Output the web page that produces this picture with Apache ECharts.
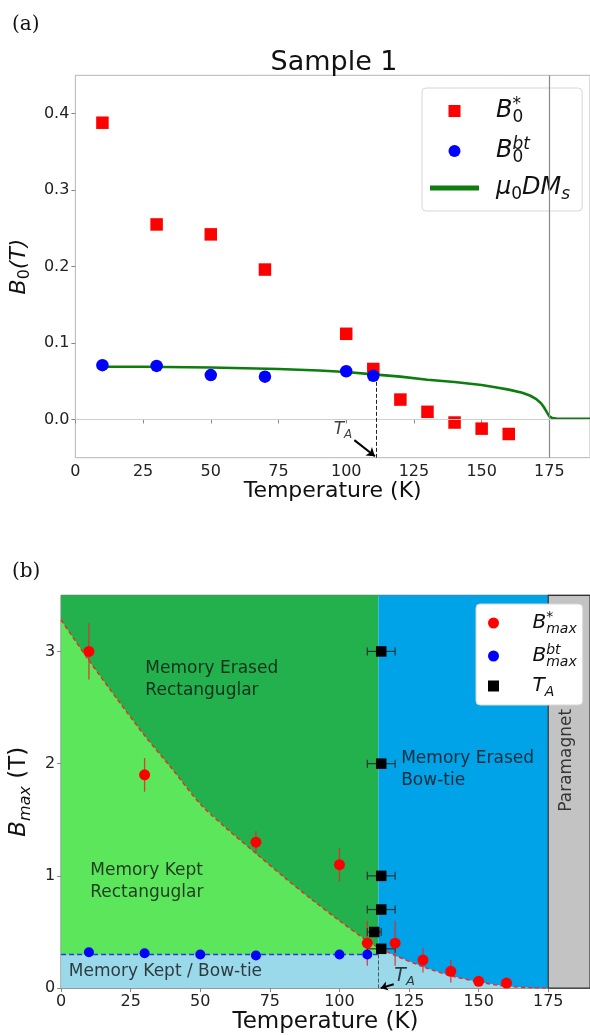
<!DOCTYPE html>
<html>
<head>
<meta charset="utf-8">
<script src="https://cdn.jsdelivr.net/npm/echarts@6/dist/echarts.min.js"></script>
<style>
html, body { margin: 0; padding: 0; background: #fff; }
#main { width: 590px; height: 1035px; }
</style>
</head>
<body>
<div id="main"></div>
<script>
// ---- (a) Sample 1 ----
const tempStarA = [10, 30, 50, 70, 100, 110, 120, 130, 140, 150, 160];
const bStarA = [0.388, 0.255, 0.242, 0.196, 0.112, 0.066, 0.026, 0.010, -0.004, -0.012, -0.019];
const tempBtA = [10, 30, 50, 70, 100, 110];
const bBtA = [0.071, 0.070, 0.058, 0.056, 0.063, 0.057];
const msTemp = [10, 25, 50, 75, 90, 100, 110, 120, 130, 140, 150, 155, 160, 165, 168, 170, 172, 173, 174, 175, 176, 178, 180, 190];
const msVal = [0.069, 0.069, 0.068, 0.066, 0.064, 0.062, 0.059, 0.056, 0.052, 0.049, 0.045, 0.042, 0.039, 0.035, 0.031, 0.027, 0.021, 0.016, 0.010, 0.004, 0.002, 0.001, 0.001, 0.001];
const ticksYA = [0, 0.1, 0.2, 0.3, 0.4];
const ticksX = [0, 25, 50, 75, 100, 125, 150, 175];

// ---- (b) phase diagram ----
const tempStarB = [10, 30, 70, 100, 110, 120, 130, 140, 150, 160];
const bStarB = [3.0, 1.9, 1.3, 1.1, 0.4, 0.4, 0.25, 0.15, 0.06, 0.045];
const bStarErrB = [0.25, 0.15, 0.1, 0.15, 0.2, 0.2, 0.11, 0.1, 0.02, 0.02];
const tempBtB = [10, 30, 50, 70, 100, 110];
const bBtB = [0.32, 0.31, 0.30, 0.29, 0.30, 0.30];
const taTemp = [115, 115, 115, 115, 112.5, 115];
const taField = [3.0, 2.0, 1.0, 0.7, 0.5, 0.35];
const taErr = [5, 5, 5, 5, 2.5, 5];
const boundT = [0, 10, 20, 30, 40, 50, 60, 70, 80, 90, 100, 110, 114, 120, 130, 140, 150, 160, 170, 175];
const boundB = [3.28, 2.92, 2.58, 2.25, 1.95, 1.64, 1.41, 1.20, 0.99, 0.79, 0.60, 0.42, 0.36, 0.29, 0.19, 0.11, 0.055, 0.016, 0.002, 0];
const ticksYB = [0, 1, 2, 3];
const btLevel = 0.3;
const tA = 114;     // boundary rectangular / bow-tie
const tC = 175;     // paramagnet

const FONT = 'DejaVu Sans';
const SQUARE = 'path://M0,0H10V10H0Z';
const SLIVER = 'path://M0,0H10V1H0Z';
const pair = (xs, ys) => xs.map((x, i) => [x, ys[i]]);
const triple = (xs, ys, es) => xs.map((x, i) => [x, ys[i], es[i]]);
const boundary = pair(boundT, boundB);

function rich(big, small) {
  const base = { fontFamily: FONT, color: '#111' };
  return {
    b: Object.assign({}, base, { fontSize: big, fontStyle: 'italic', lineHeight: big + 6 }),
    n: Object.assign({}, base, { fontSize: big, lineHeight: big + 6 }),
    sub: Object.assign({}, base, { fontSize: small, fontStyle: 'italic', lineHeight: small, verticalAlign: 'bottom' }),
    sn: Object.assign({}, base, { fontSize: small, lineHeight: small, verticalAlign: 'bottom' }),
    snz: Object.assign({}, base, { fontSize: small, lineHeight: small, verticalAlign: 'bottom', width: 0 }),
    sup: Object.assign({}, base, { fontSize: small, fontStyle: 'italic', lineHeight: small, verticalAlign: 'top' }),
    supz: Object.assign({}, base, { fontSize: small, fontStyle: 'italic', lineHeight: small, verticalAlign: 'top', width: 0 })
  };
}

const legTextA = {
  B0s: '{b|B}{snz|0}{sup|*}',
  B0bt: '{b|B}{snz|0}{sup|bt}',
  ms: '{b|μ}{sn|0}{b|DM}{sub|s}'
};
const legTextB = {
  Bsm: '{b|B}{supz|*}{sub|max}',
  Bbm: '{b|B}{supz|bt}{sub|max}',
  TA: '{b|T}{sub|A}'
};

// vertical error bars
function vErr(color) {
  return function (params, api) {
    const x = api.value(0), y = api.value(1), e = api.value(2);
    const lo = api.coord([x, y - e]), hi = api.coord([x, y + e]);
    return { type: 'line', shape: { x1: lo[0], y1: lo[1], x2: hi[0], y2: hi[1] },
      style: { stroke: color, lineWidth: 1.3 } };
  };
}
// horizontal error bars with caps
function hErr(color) {
  return function (params, api) {
    const x = api.value(0), y = api.value(1), e = api.value(2);
    const l = api.coord([x - e, y]), r = api.coord([x + e, y]);
    const c = 4;
    return { type: 'group', children: [
      { type: 'line', shape: { x1: l[0], y1: l[1], x2: r[0], y2: r[1] }, style: { stroke: color, lineWidth: 1.2 } },
      { type: 'line', shape: { x1: l[0], y1: l[1] - c, x2: l[0], y2: l[1] + c }, style: { stroke: color, lineWidth: 1.2 } },
      { type: 'line', shape: { x1: r[0], y1: r[1] - c, x2: r[0], y2: r[1] + c }, style: { stroke: color, lineWidth: 1.2 } }
    ] };
  };
}

const tickLabel = { color: '#222', fontFamily: FONT, fontSize: 16 };

const option = {
  animation: false,
  textStyle: { fontFamily: FONT },
  title: [
    { text: 'Sample 1', left: 329, top: 44, textAlign: 'center',
      textStyle: { fontFamily: FONT, fontSize: 27, fontWeight: 'normal', color: '#111' } },
    { text: '(a)', left: 7, top: 10, textStyle: { fontFamily: 'DejaVu Serif', fontSize: 20, fontWeight: 'normal', color: '#111' } },
    { text: '(b)', left: 7, top: 557, textStyle: { fontFamily: 'DejaVu Serif', fontSize: 20, fontWeight: 'normal', color: '#111' } }
  ],
  grid: [
    { left: 69.5, top: 75.3, right: -1, bottom: 577.3, show: true, borderColor: '#b5b5b5', borderWidth: 1, backgroundColor: 'transparent' },
    { left: 52.7, top: 595.3, right: -1, bottom: 46.3, show: true, borderColor: '#555', borderWidth: 1, backgroundColor: 'transparent' }
  ],
  xAxis: [
    { gridIndex: 0, type: 'value', min: 0, max: 190,
      axisLine: { show: false }, splitLine: { show: false },
      axisTick: { customValues: ticksX, length: 4, lineStyle: { color: '#888' } },
      axisLabel: Object.assign({ customValues: ticksX, margin: 6 }, tickLabel),
      name: 'Temperature (K)', nameLocation: 'middle', nameGap: 22,
      nameTextStyle: { fontFamily: FONT, fontSize: 22, color: '#111' } },
    { gridIndex: 1, type: 'value', min: 0, max: 190,
      axisLine: { show: false }, splitLine: { show: false },
      axisTick: { customValues: ticksX, length: 4, lineStyle: { color: '#888' } },
      axisLabel: Object.assign({ customValues: ticksX, margin: 6 }, tickLabel),
      name: 'Temperature (K)', nameLocation: 'middle', nameGap: 21,
      nameTextStyle: { fontFamily: FONT, fontSize: 23, color: '#111' } }
  ],
  yAxis: [
    { gridIndex: 0, type: 'value', min: -0.05, max: 0.45,
      axisLine: { show: false }, splitLine: { show: false },
      axisTick: { customValues: ticksYA, length: 4, lineStyle: { color: '#888' } },
      axisLabel: Object.assign({ customValues: ticksYA, margin: 6, formatter: v => v.toFixed(1) }, tickLabel),
      name: '{b|B}{sn|0}{b|(T)}', nameLocation: 'middle', nameGap: 34,
      nameTextStyle: { rich: rich(22, 16) } },
    { gridIndex: 1, type: 'value', min: 0, max: 3.5,
      axisLine: { show: false }, splitLine: { show: false },
      axisTick: { customValues: ticksYB, length: 4, lineStyle: { color: '#888' } },
      axisLabel: Object.assign({ customValues: ticksYB, margin: 6 }, tickLabel),
      name: '{b|B}{sub|max}{n| (T)}', nameLocation: 'middle', nameGap: 18,
      nameTextStyle: { rich: rich(23, 16) } }
  ],
  legend: [
    { orient: 'vertical', left: 422, top: 88, padding: [8, 12, 8, 8], itemGap: 10,
      itemWidth: 49, itemHeight: 12, selectedMode: false, symbolKeepAspect: true,
      backgroundColor: '#fff', borderColor: '#d6d6d6', borderWidth: 1, borderRadius: 4,
      data: [{ name: 'B0s', icon: SQUARE }, { name: 'B0bt', icon: 'circle' }, { name: 'ms', icon: SLIVER }],
      formatter: n => legTextA[n],
      textStyle: { rich: rich(24, 17), padding: [0, 0, 0, 12] } },
    { orient: 'vertical', left: 476, top: 604, padding: [6, 6, 6, 12], itemGap: 7,
      itemWidth: 24, itemHeight: 11, selectedMode: false, symbolKeepAspect: true,
      backgroundColor: '#fff', borderColor: '#d6d6d6', borderWidth: 1, borderRadius: 4,
      data: [{ name: 'Bsm', icon: 'circle' }, { name: 'Bbm', icon: 'circle' }, { name: 'TA', icon: SQUARE }],
      formatter: n => legTextB[n],
      textStyle: { rich: rich(20, 14), padding: [0, 0, 0, 22] } }
  ],
  series: [
    // ----- (a) -----
    { name: 'B0s', type: 'scatter', xAxisIndex: 0, yAxisIndex: 0, symbol: 'rect', symbolSize: 12.5, z: 3,
      itemStyle: { color: '#ff0000', opacity: 1 }, data: pair(tempStarA, bStarA) },
    { name: 'ms', type: 'line', xAxisIndex: 0, yAxisIndex: 0, showSymbol: false, symbol: 'none', z: 4,
      lineStyle: { color: '#0d7d0d', width: 2.6 }, itemStyle: { color: '#0d7d0d' },
      data: pair(msTemp, msVal),
      markLine: { silent: true, symbol: ['none', 'none'], label: { show: false }, animation: false,
        data: [
          { xAxis: tC, lineStyle: { color: '#8a8a8a', width: 1.2, type: 'solid' } },
          { yAxis: 0, lineStyle: { color: '#cfcfcf', width: 1.2, type: 'solid' } },
          [{ coord: [111, 0.057], lineStyle: { color: '#222', width: 1, type: [4, 2] } }, { coord: [111, -0.05] }],
          [{ coord: [103, -0.027], symbol: 'none', lineStyle: { color: '#000', width: 2, type: 'solid' } },
           { coord: [110.6, -0.048], symbol: 'arrow', symbolSize: 8 }]
        ] } },
    { name: 'B0bt', type: 'scatter', xAxisIndex: 0, yAxisIndex: 0, symbol: 'circle', symbolSize: 12.5, z: 5,
      itemStyle: { color: '#0000ff', opacity: 1 }, data: pair(tempBtA, bBtA) },
    { name: 'noteA', type: 'scatter', xAxisIndex: 0, yAxisIndex: 0, symbolSize: 1, silent: true, z: 6,
      itemStyle: { color: 'transparent' },
      label: { show: true, position: 'inside', formatter: '{b|T}{sub|A}', rich: rich(17, 12) },
      data: [[98.8, -0.013]] },

    // ----- (b) -----
    { name: 'kept', type: 'line', xAxisIndex: 1, yAxisIndex: 1, symbol: 'none', silent: true, z: 2,
      lineStyle: { width: 0 }, areaStyle: { color: '#5be65b', opacity: 1 },
      data: boundary.filter(p => p[0] <= tA),
      markArea: { silent: true, label: { show: false },
        data: [
          [{ xAxis: 0, yAxis: 0, itemStyle: { color: '#22b14c', opacity: 1 } }, { xAxis: tA, yAxis: 3.5 }],
          [{ xAxis: tA, yAxis: 0, itemStyle: { color: '#00a2e8', opacity: 1 } }, { xAxis: tC, yAxis: 3.5 }],
          [{ xAxis: tC, yAxis: 0, itemStyle: { color: '#c3c3c3', opacity: 1, borderColor: '#333', borderWidth: 1.2 } }, { xAxis: 190, yAxis: 3.5 }]
        ] } },
    { name: 'btHigh', type: 'line', xAxisIndex: 1, yAxisIndex: 1, symbol: 'none', silent: true, z: 2,
      lineStyle: { width: 0 }, areaStyle: { color: '#99d9ea', opacity: 1 },
      data: boundary.filter(p => p[0] >= tA) },
    { name: 'btLow', type: 'line', xAxisIndex: 1, yAxisIndex: 1, symbol: 'none', silent: true, z: 3,
      lineStyle: { color: '#1f3fe0', width: 1.5, type: [5, 3] }, areaStyle: { color: '#99d9ea', opacity: 1 },
      data: [[0, btLevel], [tA, btLevel]],
      markLine: { silent: true, symbol: ['none', 'none'], label: { show: false },
        data: [
          [{ coord: [tA, btLevel], lineStyle: { color: '#555', width: 1, type: [4, 2] } }, { coord: [tA, 0] }],
          [{ coord: [119.5, 0.035], symbol: 'none', lineStyle: { color: '#000', width: 2, type: 'solid' } },
           { coord: [114.8, 0.0], symbol: 'arrow', symbolSize: 7 }]
        ] } },
    { name: 'boundary', type: 'line', xAxisIndex: 1, yAxisIndex: 1, symbol: 'none', silent: true, smooth: 0.3, z: 4,
      lineStyle: { color: '#ff2020', width: 1.4, type: [4, 3] }, data: boundary },
    { name: 'errStar', type: 'custom', xAxisIndex: 1, yAxisIndex: 1, silent: true, z: 5,
      renderItem: vErr('rgba(230,40,40,0.85)'), encode: { x: 0, y: 1 },
      data: triple(tempStarB, bStarB, bStarErrB) },
    { name: 'Bsm', type: 'scatter', xAxisIndex: 1, yAxisIndex: 1, symbol: 'circle', symbolSize: 11, z: 6,
      itemStyle: { color: '#ff0000', opacity: 1 }, data: pair(tempStarB, bStarB) },
    { name: 'Bbm', type: 'scatter', xAxisIndex: 1, yAxisIndex: 1, symbol: 'circle', symbolSize: 10, z: 6,
      itemStyle: { color: '#0000ff', opacity: 1 }, data: pair(tempBtB, bBtB) },
    { name: 'errTA', type: 'custom', xAxisIndex: 1, yAxisIndex: 1, silent: true, z: 6,
      renderItem: hErr('#333'), encode: { x: 0, y: 1 },
      data: triple(taTemp, taField, taErr) },
    { name: 'TA', type: 'scatter', xAxisIndex: 1, yAxisIndex: 1, symbol: 'rect', symbolSize: 10.5, z: 7,
      itemStyle: { color: '#000', opacity: 1 }, data: pair(taTemp, taField) },
    { name: 'noteB', type: 'scatter', xAxisIndex: 1, yAxisIndex: 1, symbolSize: 1, silent: true, z: 8,
      itemStyle: { color: 'transparent' },
      label: { show: true, color: '#111', fontFamily: FONT, fontSize: 17, lineHeight: 22 },
      data: [
        { value: [30.1, 2.75], label: { position: 'right', distance: 0, formatter: 'Memory Erased\nRectanguglar' } },
        { value: [122, 1.95], label: { position: 'right', distance: 0, formatter: 'Memory Erased\nBow-tie' } },
        { value: [10.3, 0.95], label: { position: 'right', distance: 0, formatter: 'Memory Kept\nRectanguglar' } },
        { value: [2.6, 0.146], label: { position: 'right', distance: 0, formatter: 'Memory Kept / Bow-tie' } },
        { value: [181.7, 2.03], label: { position: 'inside', rotate: 90, formatter: 'Paramagnet' } },
        { value: [123.4, 0.11], label: { position: 'inside', formatter: '{b|T}{sub|A}', rich: rich(19, 13) } }
      ] }
  ]
};

const chart = echarts.init(document.getElementById('main'));
chart.setOption(option);
window.onresize = function () { chart.resize(); };
</script>
</body>
</html>
